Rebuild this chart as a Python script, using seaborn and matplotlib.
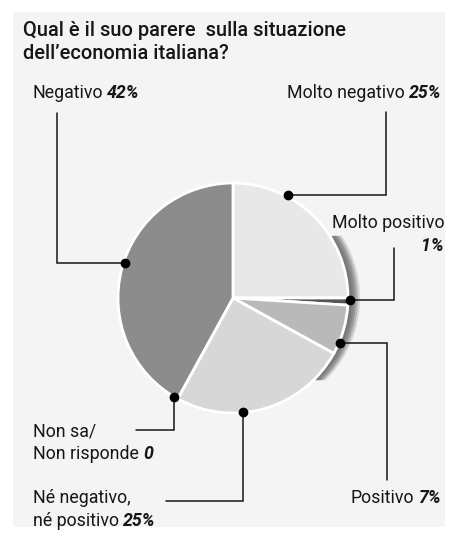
import matplotlib
matplotlib.use("Agg")
import matplotlib.pyplot as plt
from matplotlib.patches import Rectangle, Wedge
import numpy as np
import seaborn as sns

# ---- data ----
categories = ["Molto negativo", "Molto positivo", "Positivo",
              "Né negativo, né positivo", "Non sa/Non risponde", "Negativo"]
values = [25, 1, 7, 25, 0, 42]
value_labels = ["25%", "1%", "7%", "25%", "0", "42%"]
title = "Qual è il suo parere  sulla situazione\ndell’economia italiana?"

# ---- style ----
colors = ["#e8e8e8", "#555555", "#b9b9b9", "#d7d7d7", "#8c8c8c", "#8c8c8c"]
sns.set_theme(style="white")
FONT = ["Roboto", "DejaVu Sans"]
plt.rcParams["font.family"] = FONT
TXT = "#161616"

W, H = 453, 541
fig = plt.figure(figsize=(W / 100, H / 100), dpi=100, facecolor="white")
ax = fig.add_axes([0, 0, 1, 1])

def P(x, y):
    return x, H - y

# background panel
ax.add_patch(Rectangle(P(13, 527), 432, 515, facecolor="#f4f4f4",
                       edgecolor="none", zorder=0))

cx, cy = P(233, 298)
R = 115

# shadow on the right side
for dx, c in [(12, "#d6d6d6"), (10, "#b4b4b4"), (8, "#979797"),
              (6, "#858585"), (4, "#7a7a7a")]:
    ax.add_patch(Wedge((cx + dx, cy), R, -46, 33, facecolor=c,
                       edgecolor="none", zorder=1))

wedges, _ = ax.pie(values, colors=colors, startangle=90, counterclock=False,
                   center=(cx, cy), radius=R,
                   wedgeprops=dict(edgecolor="white", linewidth=2),
                   frame=False)
for w in wedges:
    w.set_zorder(2)

ax.set_xlim(0, W)
ax.set_ylim(0, H)
ax.set_aspect("auto")
ax.axis("off")

# leader lines: anchor angle on the rim, then elbow path (pixel coords)
anchor_angles = [62, -1, -22.6, -85, -121, 162]
anchor_r = [117, 117, 116, 114, 115, 114]
paths = [
    [(386, 194), (386, 112)],
    [(394, 300), (394, 248)],
    [(387, 343), (387, 480)],
    [(243, 501), (166, 501)],
    [(174, 430), (136, 430)],
    [(57, 263), (57, 113)],
]
for ang, r, path in zip(anchor_angles, anchor_r, paths):
    ax_ = cx + r * np.cos(np.radians(ang))
    ay_ = cy + r * np.sin(np.radians(ang))
    pts = [(ax_, ay_)]
    ex, ey = P(*path[0])
    if abs(ex - ax_) > abs(ey - ay_):
        pts.append((ex, ay_))
    else:
        pts.append((ax_, ey))
    pts.append(P(*path[1]))
    xs, ys = zip(*pts)
    ax.plot(xs, ys, color=TXT, lw=1.1, zorder=3, solid_joinstyle="miter")
    ax.plot([ax_], [ay_], "o", color="black", ms=6, zorder=4)

renderer = fig.canvas.get_renderer()
FS = 12.8

def label(x, y, reg, bold, ha="left", gap=4):
    X, Y = P(x, y)
    if ha == "left":
        t1 = ax.text(X, Y, reg, ha="left", va="baseline", fontsize=FS, color=TXT)
        w1 = t1.get_window_extent(renderer).width
        ax.text(X + w1 + gap, Y, bold, ha="left", va="baseline", fontsize=FS,
                fontweight="bold", fontstyle="italic", color=TXT)
    else:
        t2 = ax.text(X, Y, bold, ha="right", va="baseline", fontsize=FS,
                     fontweight="bold", fontstyle="italic", color=TXT)
        w2 = t2.get_window_extent(renderer).width
        ax.text(X - w2 - gap, Y, reg, ha="right", va="baseline", fontsize=FS,
                color=TXT)

def plain(x, y, s, ha="left"):
    X, Y = P(x, y)
    ax.text(X, Y, s, ha=ha, va="baseline", fontsize=FS, color=TXT)

# title
for i, line in enumerate(title.split("\n")):
    tx, ty = P(23, 36 + 23 * i)
    ax.text(tx, ty, line, ha="left", va="baseline", fontsize=14.4,
            color=TXT, fontweight="medium")

label(32, 98, "Negativo", value_labels[5])
label(441, 98, "Molto negativo", value_labels[0], ha="right")
plain(444, 228, "Molto positivo", ha="right")
X, Y = P(444, 251)
ax.text(X, Y, value_labels[1], ha="right", va="baseline", fontsize=FS,
        fontweight="bold", fontstyle="italic", color=TXT)
label(441, 503, "Positivo", value_labels[2], ha="right")
plain(33, 436, "Non sa/")
label(33, 459, "Non risponde", value_labels[4])
plain(33, 503, "Né negativo,")
label(33, 526, "né positivo", value_labels[3])

fig.savefig("out.png", dpi=100, facecolor="white")
